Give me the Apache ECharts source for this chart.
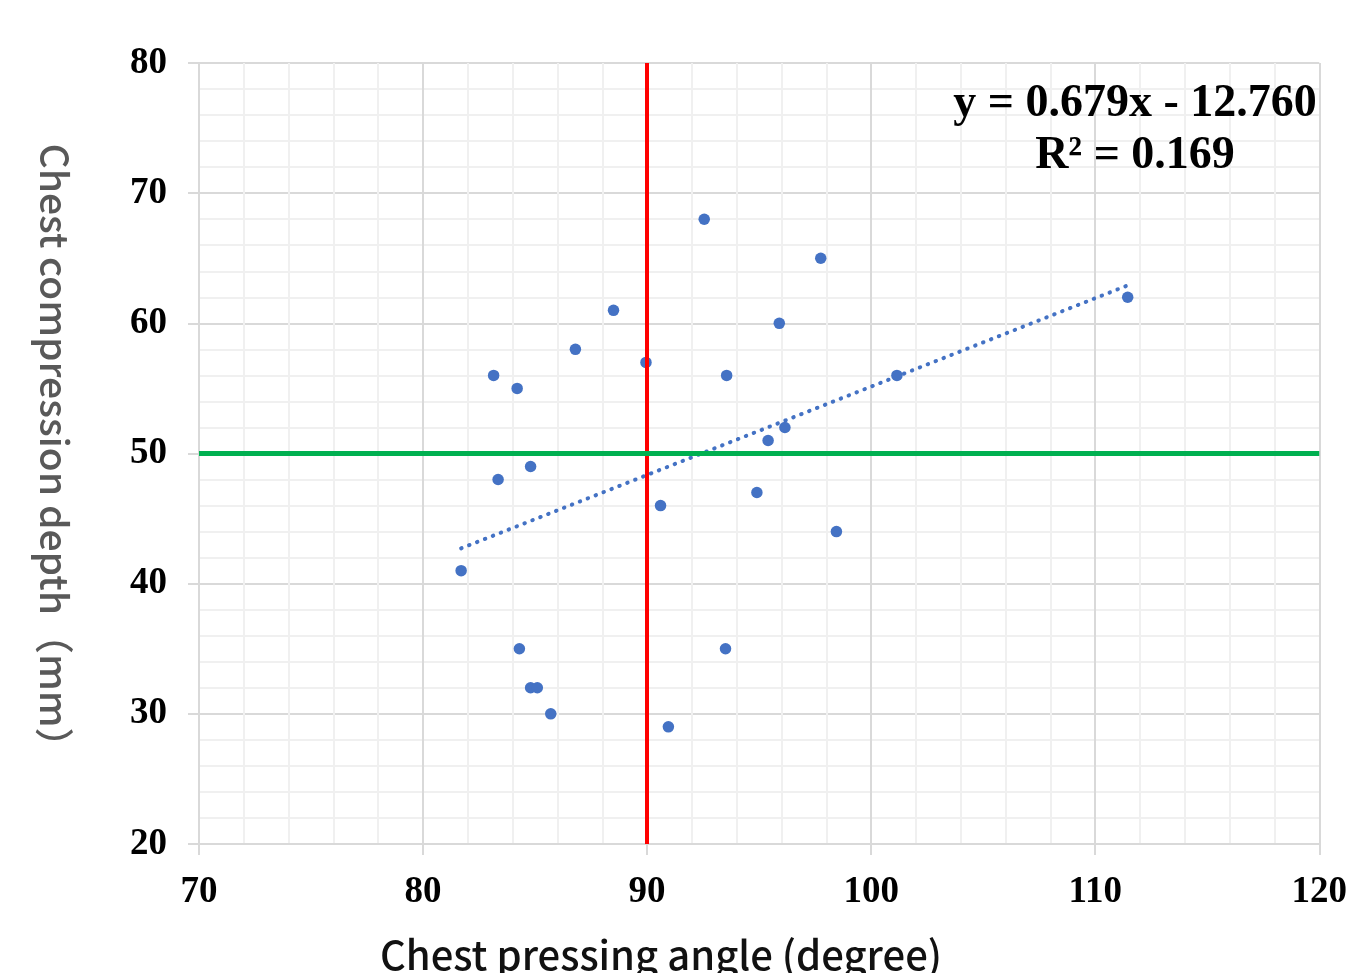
<!DOCTYPE html>
<html>
<head>
<meta charset="utf-8">
<title>Chest pressing angle vs compression depth</title>
<script src="https://cdn.jsdelivr.net/npm/echarts@6/dist/echarts.min.js"></script>
<style>
  html, body { margin: 0; padding: 0; background: #fff; }
  #main { width: 1350px; height: 973px; }
</style>
</head>
<body>
<div id="main"></div>
<script>
// pressing angle (degree) and compression depth (mm)
var angle = [92.55, 97.75, 111.45, 88.5, 95.9, 86.8, 83.15, 89.95, 93.55, 101.15,
             84.2, 96.15, 95.4, 84.8, 83.35, 94.9, 90.6, 98.45, 81.7, 84.3,
             93.5, 84.8, 85.1, 85.7, 90.95];
var depth = [68, 65, 62, 61, 60, 58, 56, 57, 56, 56,
             55, 52, 51, 49, 48, 47, 46, 44, 41, 35,
             35, 32, 32, 30, 29];

// linear trend shown on the chart
var slope = 0.679;
var intercept = -12.760;
var rSquared = 0.169;

// reference lines
var refAngle = [90];
var refDepth = [50];

var xTicks = [70, 120, 10];
var yTicks = [20, 80, 10];

var points = angle.map(function (a, i) { return [a, depth[i]]; });
var xMin = Math.min.apply(null, angle);
var xMax = Math.max.apply(null, angle);
var trend = [[xMin, slope * xMin + intercept], [xMax, slope * xMax + intercept]];

var eqText = 'y = ' + slope.toFixed(3) + 'x - ' + Math.abs(intercept).toFixed(3);
var r2Text = 'R\u00B2 = ' + rSquared.toFixed(3);

var myChart = echarts.init(document.getElementById('main'));

var axisFont = {
    fontFamily: '"Liberation Serif", "Times New Roman", serif',
    fontWeight: 'bold',
    fontSize: 37,
    color: '#000'
};

var option = {
    animation: false,
    backgroundColor: '#fff',
    grid: { left: 199, right: 29, top: 63, bottom: 129 },
    xAxis: {
        type: 'value',
        min: xTicks[0], max: xTicks[1], interval: xTicks[2],
        axisLine: { show: true, onZero: false, lineStyle: { color: '#d9d9d9', width: 2 } },
        axisTick: { show: true, length: 11, lineStyle: { color: '#d9d9d9', width: 2 } },
        axisLabel: Object.assign({ margin: 30 }, axisFont),
        splitLine: { show: true, lineStyle: { color: '#d9d9d9', width: 2 } },
        minorTick: { show: false, splitNumber: 5 },
        minorSplitLine: { show: true, lineStyle: { color: '#f0f0f0', width: 2 } }
    },
    yAxis: {
        type: 'value',
        min: yTicks[0], max: yTicks[1], interval: yTicks[2],
        axisLine: { show: true, onZero: false, lineStyle: { color: '#d9d9d9', width: 2 } },
        axisTick: { show: true, length: 11, lineStyle: { color: '#d9d9d9', width: 2 } },
        axisLabel: Object.assign({ margin: 32 }, axisFont),
        splitLine: { show: true, lineStyle: { color: '#d9d9d9', width: 2 } },
        minorTick: { show: false, splitNumber: 5 },
        minorSplitLine: { show: true, lineStyle: { color: '#f0f0f0', width: 2 } }
    },
    graphic: [
        {
            type: 'text',
            x: 1135, y: 78, z: 100,
            style: {
                text: eqText + '\n' + r2Text,
                align: 'center', verticalAlign: 'top',
                lineHeight: 52,
                font: 'bold 46px "Liberation Serif", "Times New Roman", serif',
                fill: '#000'
            }
        },
        {
            type: 'text',
            x: 55, y: 455, rotation: -Math.PI / 2,
            style: {
                text: 'Chest compression depth（mm）',
                align: 'center', verticalAlign: 'middle',
                font: '500 39px "Noto Sans CJK JP", "Noto Sans", sans-serif',
                fill: '#595959'
            }
        },
        {
            type: 'text',
            x: 661, y: 955,
            style: {
                text: 'Chest pressing angle (degree)',
                align: 'center', verticalAlign: 'middle',
                font: '500 40px "Noto Sans CJK JP", "Noto Sans", sans-serif',
                fill: '#111'
            }
        }
    ],
    series: [
        {
            type: 'scatter',
            data: [],
            silent: true,
            markLine: {
                silent: true,
                symbol: 'none',
                label: { show: false },
                animation: false,
                data: [
                    { xAxis: refAngle[0], lineStyle: { color: '#ff0000', width: 4, type: 'solid' } },
                    { yAxis: refDepth[0], lineStyle: { color: '#00b050', width: 5, type: 'solid' } }
                ]
            },
            z: 2
        },
        {
            type: 'line',
            data: trend,
            symbol: 'none',
            silent: true,
            lineStyle: { color: '#4472c4', width: 4, type: [0.5, 8], cap: 'round' },
            z: 3
        },
        {
            type: 'scatter',
            data: points,
            symbol: 'circle',
            symbolSize: 11.5,
            itemStyle: { color: '#4472c4', opacity: 1 },
            z: 4
        }
    ]
};
myChart.setOption(option);
</script>
</body>
</html>
